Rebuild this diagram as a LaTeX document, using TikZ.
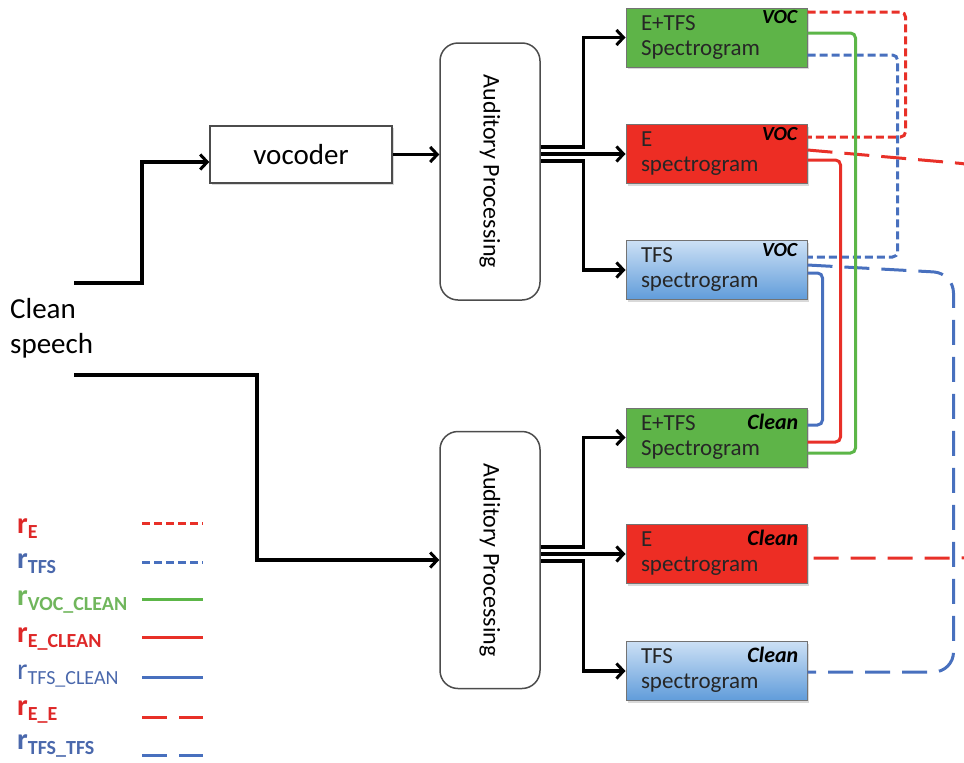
\documentclass[tikz,border=0pt]{standalone}
\usepackage{fontspec}
\setmainfont{Carlito}
\usetikzlibrary{arrows.meta,shadows,calc}
\definecolor{boxgreen}{RGB}{94,180,72}
\definecolor{boxred}{RGB}{237,45,36}
\definecolor{boxbluetop}{RGB}{204,224,245}
\definecolor{boxbluebot}{RGB}{96,156,218}
\definecolor{lred}{RGB}{232,48,40}
\definecolor{lblue}{RGB}{72,112,190}
\definecolor{lgreen}{RGB}{92,182,72}
\definecolor{tred}{RGB}{222,40,40}
\definecolor{tblue}{RGB}{74,104,172}
\definecolor{tgreen}{RGB}{112,182,92}
\newcommand{\rlab}[1]{{\fontsize{30}{30}\selectfont r}\raisebox{-5pt}{\fontsize{20}{20}\selectfont #1}}
\begin{document}
\begin{tikzpicture}[x=1pt,y=-1pt,
    box/.style={draw=black!55,line width=1pt,minimum height=59pt,text width=151pt,
      inner xsep=15pt,align=left,text=black!85,font=\fontsize{23}{25}\selectfont,
      drop shadow={shadow xshift=2pt,shadow yshift=-2pt,opacity=0.3}},
    gbox/.style={box,fill=boxgreen},
    rbox/.style={box,fill=boxred},
    bbox/.style={box,top color=boxbluetop,bottom color=boxbluebot},
    tag/.style={font=\fontsize{20}{20}\selectfont\bfseries\itshape,inner sep=0pt,anchor=north east},
    proc/.style={draw=black!70,line width=1.5pt,fill=white,rounded corners=18pt,
      minimum width=100pt,minimum height=257pt,font=\fontsize{24}{24}\selectfont},
    arr/.style={line width=3.2pt,-{Straight Barb[length=7pt,width=15pt,line width=3pt]}},
    wire/.style={line width=3pt,rounded corners=5pt},
    rE/.style={wire,lred,dash pattern=on 8pt off 4pt},
    rT/.style={wire,lblue,dash pattern=on 8pt off 4pt},
    rVC/.style={wire,lgreen},
    rEC/.style={wire,lred},
    rTC/.style={wire,lblue},
    rEE/.style={wire,lred,dash pattern=on 25pt off 12pt},
    rTT/.style={wire,lblue,dash pattern=on 25pt off 12pt},
    leg/.style={anchor=base west,inner sep=0pt,font=\bfseries}]
  \path[use as bounding box,clip] (0,0) rectangle (964,763);

  \node[anchor=west,align=left,inner sep=0pt,font=\fontsize{29}{35}\selectfont] (cs) at (10,328) {Clean\\speech};
  \coordinate (in1) at (74,283);
  \coordinate (in2) at (74,375);

  \node[draw=black!70,line width=1.5pt,fill=white,minimum width=182pt,minimum height=57pt,
    font=\fontsize{29}{29}\selectfont,drop shadow={shadow xshift=2pt,shadow yshift=-2pt,opacity=0.3}] (voc) at (301,154.5) {vocoder};
  \node[proc] (ap1) at (490,171.5) {\rotatebox{-90}{Auditory Processing}};
  \node[proc] (ap2) at (490,560) {\rotatebox{-90}{Auditory Processing}};

  \node[gbox] (etv) at (716.5,37.5) {E+TFS\\Spectrogram};
  \node[rbox] (ev) at (716.5,154) {E\\spectrogram};
  \node[bbox] (tv) at (716.5,270) {TFS\\spectrogram};
  \node[gbox] (etc) at (716.5,437.5) {E+TFS\\Spectrogram};
  \node[rbox] (ec) at (716.5,554) {E\\spectrogram};
  \node[bbox] (tc) at (716.5,671) {TFS\\spectrogram};

  \node[tag] (etvt) at ([xshift=-10pt,yshift=-3pt]etv.north east) {VOC};
  \node[tag] (evt) at ([xshift=-10pt,yshift=-3pt]ev.north east) {VOC};
  \node[tag] (tvt) at ([xshift=-10pt,yshift=-3pt]tv.north east) {VOC};
  \node[tag,font=\fontsize{22}{22}\selectfont\bfseries\itshape] (etct) at ([xshift=-9pt,yshift=-6pt]etc.north east) {Clean};
  \node[tag,font=\fontsize{22}{22}\selectfont\bfseries\itshape] (ect) at ([xshift=-9pt,yshift=-6pt]ec.north east) {Clean};
  \node[tag,font=\fontsize{22}{22}\selectfont\bfseries\itshape] (tct) at ([xshift=-9pt,yshift=-6pt]tc.north east) {Clean};

  \draw[arr] (in1) -- ++(68,0) |- ([yshift=-7.5pt]voc.west);
  \draw[arr] (voc.east) -- (voc.east -| ap1.west);
  \draw[arr] (in2) -- ++(183,0) |- (ap2.west);

  \draw[arr] (ap1.east |- ev.west) -- (ev.west);
  \draw[arr] ($(ap1.east |- ev.west)+(0,-7)$) -- ++(43,0) |- (etv.west);
  \draw[arr] ($(ap1.east |- ev.west)+(0,7)$) -- ++(43,0) |- (tv.west);
  \draw[arr] (ap2.east |- ec.west) -- (ec.west);
  \draw[arr] ($(ap2.east |- ec.west)+(0,-7)$) -- ++(43,0) |- (etc.west);
  \draw[arr] ($(ap2.east |- ec.west)+(0,7)$) -- ++(43,0) |- (tc.west);

  \draw[rEE,rounded corners=30pt] ($(ev.east)+(0,-4)$) -- ++(183,16) |- ($(ec.east)+(0,4)$);
  \draw[rTT,rounded corners=20pt] ($(tv.east)+(0,-5)$) -- ++(146,8) |- ($(tc.east)+(0,1)$);
  \draw[rE] ($(etv.east)+(0,-25.5)$) -- ++(98,0) |- ($(ev.east)+(0,-17)$);
  \draw[rT] ($(etv.east)+(0,17.5)$) -- ++(90,0) |- ($(tv.east)+(0,-13)$);
  \draw[rVC] ($(etv.east)+(0,-4.5)$) -- ++(48,0) |- ($(etc.east)+(0,15.5)$);
  \draw[rEC] ($(ev.east)+(0,6)$) -- ++(33,0) |- ($(etc.east)+(0,4.5)$);
  \draw[rTC] ($(tv.east)+(0,3)$) -- ++(15,0) |- ($(etc.east)+(0,-12.5)$);

  \node[leg,tred] (lE) at (17,533) {\rlab{E}};
  \node[leg,tblue] (lT) at (17,568) {\rlab{TFS}};
  \node[leg,tgreen] (lVC) at (17,605) {\rlab{VOC\_CLEAN}};
  \node[leg,tred] (lEC) at (17,642) {\rlab{E\_CLEAN}};
  \node[leg,tblue,font=\mdseries] (lTC) at (17,679) {\rlab{TFS\_CLEAN}};
  \node[leg,tred] (lEE) at (17,715) {\rlab{E\_E}};
  \node[leg,tblue] (lTT) at (17,749) {\rlab{TFS\_TFS}};

  \draw[rE] (142,523) -- ++(61,0);
  \draw[rT] (142,562) -- ++(61,0);
  \draw[rVC] (142,599) -- ++(61,0);
  \draw[rEC] (142,637) -- ++(61,0);
  \draw[rTC] (142,677) -- ++(61,0);
  \draw[rEE] (142,717) -- ++(61,0);
  \draw[rTT] (142,755) -- ++(61,0);
\end{tikzpicture}
\end{document}
